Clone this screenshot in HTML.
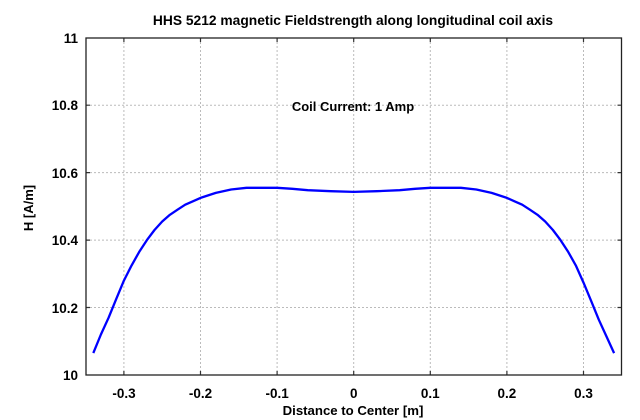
<!DOCTYPE html>
<html><head><style>body{margin:0;background:#fff}svg{display:block}</style></head><body>
<svg width="640" height="420" xmlns="http://www.w3.org/2000/svg" font-family="Liberation Sans, sans-serif" font-weight="bold">
<rect width="640" height="420" fill="#fff"/>
<g stroke="#bbb" stroke-width="1" stroke-dasharray="2,2">
<line x1="123.9" y1="38" x2="123.9" y2="375"/>
<line x1="200.5" y1="38" x2="200.5" y2="375"/>
<line x1="277.1" y1="38" x2="277.1" y2="375"/>
<line x1="353.7" y1="38" x2="353.7" y2="375"/>
<line x1="430.3" y1="38" x2="430.3" y2="375"/>
<line x1="506.9" y1="38" x2="506.9" y2="375"/>
<line x1="583.5" y1="38" x2="583.5" y2="375"/>
<line x1="86" y1="105.2" x2="621.5" y2="105.2"/>
<line x1="86" y1="172.6" x2="621.5" y2="172.6"/>
<line x1="86" y1="240.1" x2="621.5" y2="240.1"/>
<line x1="86" y1="307.5" x2="621.5" y2="307.5"/>
</g>
<g stroke="#333" stroke-width="1.2">
<path d="M123.9 38v4M200.5 38v4M277.1 38v4M353.7 38v4M430.3 38v4M506.9 38v4M583.5 38v4M123.9 375v-4M200.5 375v-4M277.1 375v-4M353.7 375v-4M430.3 375v-4M506.9 375v-4M583.5 375v-4M86 105.2h4M86 172.6h4M86 240.1h4M86 307.5h4M621.5 105.2h-4M621.5 172.6h-4M621.5 240.1h-4M621.5 307.5h-4"/>
</g>
<rect x="86" y="38" width="535.5" height="337" fill="none" stroke="#222" stroke-width="1.3"/>
<polyline fill="none" stroke="#0000ff" stroke-width="2.3" stroke-linejoin="round" points="93.3,353.1 100.9,334.5 108.6,317.7 116.2,299.1 123.9,280.6 131.6,265.4 139.2,251.9 146.9,240.1 154.5,230 162.2,221.5 169.9,214.8 177.5,209.7 185.2,204.7 192.9,201.3 200.5,197.9 215.8,192.9 231.1,189.5 246.5,187.8 277.1,187.8 292.4,188.8 307.7,190.2 330.7,191.2 353.7,191.9 376.7,191.2 399.7,190.2 415,188.8 430.3,187.8 460.9,187.8 476.3,189.5 491.6,192.9 506.9,197.9 514.5,201.3 522.2,204.7 529.9,209.7 537.5,214.8 545.2,221.5 552.9,230 560.5,240.1 568.2,251.9 575.8,265.4 583.5,282.6 591.2,301.1 598.8,319.7 606.5,336.5 614.1,353.1"/>
<text x="353" y="25" font-size="13.8" text-anchor="middle">HHS 5212 magnetic Fieldstrength along longitudinal coil axis</text>
<text x="353" y="111" font-size="13" text-anchor="middle">Coil Current: 1 Amp</text>
<g font-size="13.5" text-anchor="end">
<text x="78" y="43">11</text>
<text x="78" y="110">10.8</text>
<text x="78" y="178">10.6</text>
<text x="78" y="245">10.4</text>
<text x="78" y="313">10.2</text>
<text x="78" y="380">10</text>
</g>
<g font-size="13.5" text-anchor="middle">
<text x="124" y="398">-0.3</text>
<text x="200.5" y="398">-0.2</text>
<text x="277.1" y="398">-0.1</text>
<text x="353.7" y="398">0</text>
<text x="430.3" y="398">0.1</text>
<text x="506.9" y="398">0.2</text>
<text x="583.5" y="398">0.3</text>
</g>
<text x="353" y="415" font-size="13.2" text-anchor="middle">Distance to Center [m]</text>
<text transform="translate(33,208) rotate(-90)" font-size="13" text-anchor="middle">H [A/m]</text>
</svg>
</body></html>
